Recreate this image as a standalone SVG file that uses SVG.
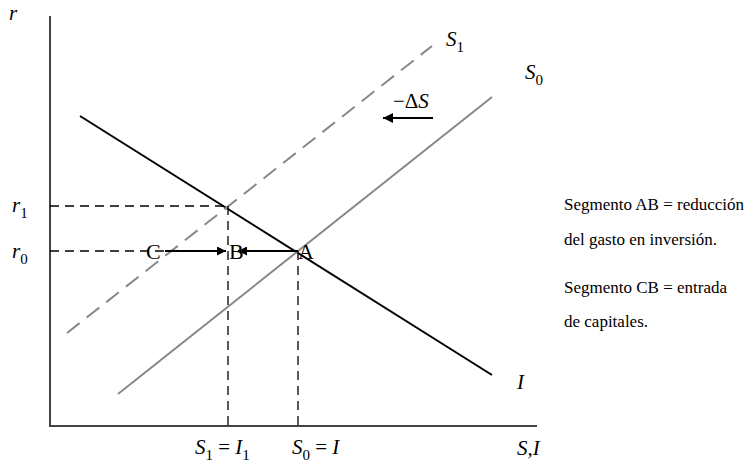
<svg xmlns="http://www.w3.org/2000/svg" width="753" height="462" viewBox="0 0 753 462">
<defs>
<marker id="ah" viewBox="0 0 10 10" refX="10" refY="5" markerWidth="12" markerHeight="9" markerUnits="userSpaceOnUse" orient="auto"><path d="M0,0 L10,5 L0,10 z" fill="#000"/></marker>
<marker id="ah2" viewBox="0 0 10 10" refX="10" refY="5" markerWidth="14" markerHeight="10" markerUnits="userSpaceOnUse" orient="auto"><path d="M0,0 L10,5 L0,10 z" fill="#000"/></marker>
</defs>
<style>
text{font-family:'Liberation Serif','Times New Roman',serif;fill:#000}
.t{font-size:21px}
.l{font-size:22px}
.i{font-style:italic}
.sub{font-size:15px;font-style:normal}
.n{font-size:17px}
.ax{stroke:#444;stroke-width:2;fill:none}
.dash{stroke:#000;stroke-width:1.3;stroke-dasharray:9,6;fill:none}
</style>
<rect width="753" height="462" fill="#fff"/>
<g id="axes">
<line class="ax" x1="50" y1="16" x2="50" y2="426"/>
<line class="ax" x1="49" y1="426" x2="537" y2="426"/>
<text class="t i" x="9" y="20">r</text>
<text class="t i" x="517" y="455">S,I</text>
</g>
<g id="connectors">
<line x1="80" y1="116" x2="492" y2="375" stroke="#000" stroke-width="2"/>
<line x1="118" y1="394" x2="492" y2="97" stroke="#888" stroke-width="2"/>
<line x1="67" y1="333" x2="432" y2="46" stroke="#888" stroke-width="2" stroke-dasharray="16,9"/>
<line class="dash" x1="50" y1="206" x2="228" y2="206"/>
<line class="dash" x1="50" y1="251" x2="165" y2="251"/>
<line class="dash" x1="228" y1="206" x2="228" y2="426"/>
<line class="dash" x1="298" y1="251" x2="298" y2="426"/>
<line x1="165" y1="251" x2="226" y2="251" stroke="#000" stroke-width="2" marker-end="url(#ah)"/>
<line x1="298" y1="251" x2="238" y2="251" stroke="#000" stroke-width="2" marker-end="url(#ah)"/>
<line x1="433" y1="118" x2="383" y2="118" stroke="#000" stroke-width="2" marker-end="url(#ah2)"/>
</g>
<g id="labels">
<text class="t i" x="446" y="46">S<tspan class="sub" dy="6">1</tspan></text>
<text class="t i" x="525" y="79">S<tspan class="sub" dy="6">0</tspan></text>
<text class="t" x="393" y="108">−Δ<tspan class="i">S</tspan></text>
<text class="t i" x="12" y="212">r<tspan class="sub" dy="6">1</tspan></text>
<text class="t i" x="12" y="258">r<tspan class="sub" dy="6">0</tspan></text>
<text class="l" x="146" y="259">C</text>
<text class="l" x="229" y="259">B</text>
<text class="l" x="298" y="259">A</text>
<text class="t i" x="517" y="389">I</text>
<text class="t i" x="195" y="454">S<tspan class="sub" dy="6">1</tspan><tspan dy="-6" font-style="normal"> = </tspan>I<tspan class="sub" dy="6">1</tspan></text>
<text class="t i" x="292" y="454">S<tspan class="sub" dy="6">0</tspan><tspan dy="-6" font-style="normal"> = </tspan>I</text>
</g>
<g id="note">
<text class="n" x="564" y="210">Segmento AB = reducción</text>
<text class="n" x="564" y="245">del gasto en inversión.</text>
<text class="n" x="564" y="293">Segmento CB = entrada</text>
<text class="n" x="564" y="327">de capitales.</text>
</g>
</svg>
